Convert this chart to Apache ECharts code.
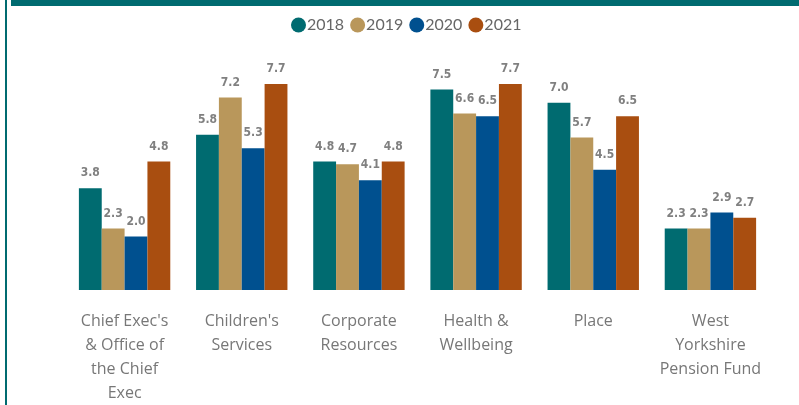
<!DOCTYPE html>
<html>
<head>
<meta charset="utf-8">
<script src="https://cdn.jsdelivr.net/npm/echarts@6/dist/echarts.min.js"></script>
<style>
  html, body { margin: 0; padding: 0; background: #fff; }
  #chart { width: 799px; height: 405px; }
</style>
</head>
<body>
<div id="chart"></div>
<script>
// Directorate names (x axis)
const categories = [
  "Chief Exec's\n& Office of\nthe Chief\nExec",
  "Children's\nServices",
  "Corporate\nResources",
  "Health &\nWellbeing",
  "Place",
  "West\nYorkshire\nPension Fund"
];

// Yearly values per directorate
const years = ["2018", "2019", "2020", "2021"];
const values2018 = [3.8, 5.8, 4.8, 7.5, 7.0, 2.3];
const values2019 = [2.3, 7.2, 4.7, 6.6, 5.7, 2.3];
const values2020 = [2.0, 5.3, 4.1, 6.5, 4.5, 2.9];
const values2021 = [4.8, 7.7, 4.8, 7.7, 6.5, 2.7];

const colors = ["#006B70", "#B9975B", "#00508F", "#A94E10"];
const seriesValues = [values2018, values2019, values2020, values2021];

const chart = echarts.init(document.getElementById('chart'), null, { renderer: 'canvas' });

chart.setOption({
  animation: false,
  color: colors,
  graphic: [
    { type: 'rect', shape: { x: 11, y: 0, width: 788, height: 6 }, style: { fill: '#006B70' } },
    { type: 'rect', shape: { x: 5, y: 0, width: 2, height: 405 }, style: { fill: '#006B70' } }
  ],
  legend: {
    data: years,
    top: 12,
    left: 286,
    icon: 'circle',
    itemWidth: 15,
    itemHeight: 15,
    itemGap: 6,
    textStyle: { color: '#666', fontSize: 16, fontFamily: 'Lato', padding: [0, 0, 0, -4] }
  },
  grid: { left: 66, right: 30, top: 76, bottom: 115 },
  xAxis: {
    type: 'category',
    data: categories,
    axisLine: { show: false },
    axisTick: { show: false },
    axisLabel: {
      color: '#777',
      fontSize: 16,
      fontFamily: 'Open Sans',
      lineHeight: 24,
      margin: 19,
      interval: 0
    }
  },
  yAxis: {
    type: 'value',
    min: 0,
    max: 8,
    show: false
  },
  series: seriesValues.map((vals, i) => ({
    name: years[i],
    type: 'bar',
    data: vals,
    barGap: '0%',
    barCategoryGap: '22%',
    label: {
      show: true,
      position: 'top',
      distance: 9,
      formatter: (p) => p.value.toFixed(1),
      color: '#808080',
      fontSize: 12,
      fontWeight: 'bold',
      fontFamily: 'DejaVu Sans Condensed'
    }
  }))
});
</script>
</body>
</html>
